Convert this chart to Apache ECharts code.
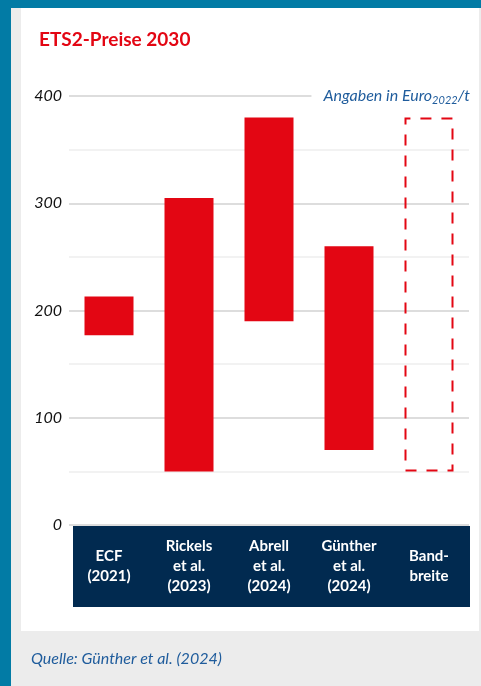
<!DOCTYPE html>
<html>
<head>
<meta charset="utf-8">
<script src="https://cdn.jsdelivr.net/npm/echarts@6/dist/echarts.min.js"></script>
<style>
  html, body { margin: 0; padding: 0; }
  body { width: 481px; height: 686px; background: #ececec; position: relative; overflow: hidden; }
  #teal-top { position: absolute; left: 0; top: 0; width: 481px; height: 8px; background: #027ba5; }
  #teal-left { position: absolute; left: 0; top: 0; width: 11px; height: 686px; background: #027ba5; }
  #panel { position: absolute; left: 21px; top: 8px; width: 458px; height: 623px; background: #ffffff; }
  #chart { position: absolute; left: 0; top: 0; width: 481px; height: 686px; }
</style>
</head>
<body>
<div id="teal-top"></div>
<div id="teal-left"></div>
<div id="panel"></div>
<div id="chart"></div>
<script>
const titleText = 'ETS2-Preise 2030';
const sourceText = 'Quelle: Günther et al. (2024)';
const categories = ['ECF\n(2021)', 'Rickels\net al.\n(2023)', 'Abrell\net al.\n(2024)', 'Günther\net al.\n(2024)', 'Band-\nbreite'];
const lowValues = [177, 50, 190, 70, 50];
const highValues = [213, 305, 380, 260, 380];
const yMin = 0, yMax = 400, yInterval = 100;

const RED = '#e30613';
const NAVY = '#012a50';
const BLUE = '#1f5c9c';
const FONT = 'Lato, "Open Sans", sans-serif';

const rangeData = highValues.map((h, i) => {
  const item = { value: h - lowValues[i] };
  if (i === categories.length - 1) {
    item.itemStyle = {
      color: 'rgba(0,0,0,0)',
      borderColor: RED,
      borderWidth: 2,
      borderType: [11, 10],
      borderDashOffset: 0
    };
  }
  return item;
});

const chart = echarts.init(document.getElementById('chart'), null, { renderer: 'canvas' });
chart.setOption({
  backgroundColor: 'transparent',
  animation: false,
  title: {
    text: titleText,
    left: 34,
    top: 25,
    textStyle: { color: RED, fontSize: 19, fontWeight: 'bold', fontFamily: FONT }
  },
  grid: { left: 69, right: 12, top: 96, bottom: 161 },
  xAxis: {
    type: 'category',
    data: categories,
    z: 10,
    axisLine: { show: false },
    axisTick: { show: false },
    splitLine: { show: false },
    axisLabel: {
      color: '#ffffff',
      fontWeight: 'bold',
      fontSize: 15,
      lineHeight: 20,
      fontFamily: FONT,
      verticalAlign: 'middle',
      margin: 41,
      interval: 0
    }
  },
  yAxis: {
    type: 'value',
    min: yMin,
    max: yMax,
    interval: yInterval,
    axisLine: { show: false },
    axisTick: { show: false },
    axisLabel: {
      color: '#111111',
      fontStyle: 'italic',
      fontSize: 16,
      fontFamily: FONT,
      margin: 7
    },
    splitLine: { show: true, lineStyle: { color: '#d2d2d2', width: 1.5 } },
    minorTick: { show: false, splitNumber: 2 },
    minorSplitLine: { show: true, lineStyle: { color: '#eeeeee', width: 1.5 } }
  },
  series: [
    {
      type: 'bar',
      stack: 'range',
      data: lowValues,
      barWidth: 49,
      silent: true,
      itemStyle: { color: 'rgba(0,0,0,0)' }
    },
    {
      type: 'bar',
      stack: 'range',
      data: rangeData,
      barWidth: 49,
      itemStyle: { color: RED }
    }
  ],
  graphic: [
    {
      type: 'rect',
      z: 5,
      shape: { x: 73, y: 526, width: 397, height: 81 },
      style: { fill: NAVY }
    },
    {
      type: 'text',
      z: 20,
      right: 11,
      top: 86,
      style: {
        text: '{a|Angaben in Euro}{s|2022}{a|/t}',
        backgroundColor: '#ffffff',
        padding: [0, 0, 0, 12],
        rich: {
          a: { fontSize: 16, lineHeight: 20, fontStyle: 'italic', fontFamily: FONT, fill: BLUE, color: BLUE, verticalAlign: 'middle' },
          s: { fontSize: 11, lineHeight: 11, padding: [9, 0, 0, 0], fontStyle: 'italic', fontFamily: FONT, fill: BLUE, color: BLUE, verticalAlign: 'middle' }
        }
      }
    },
    {
      type: 'text',
      z: 20,
      left: 31,
      top: 651,
      style: {
        text: sourceText,
        fontSize: 16,
        fontStyle: 'italic',
        fontFamily: FONT,
        fill: BLUE
      }
    }
  ]
});
</script>
</body>
</html>
